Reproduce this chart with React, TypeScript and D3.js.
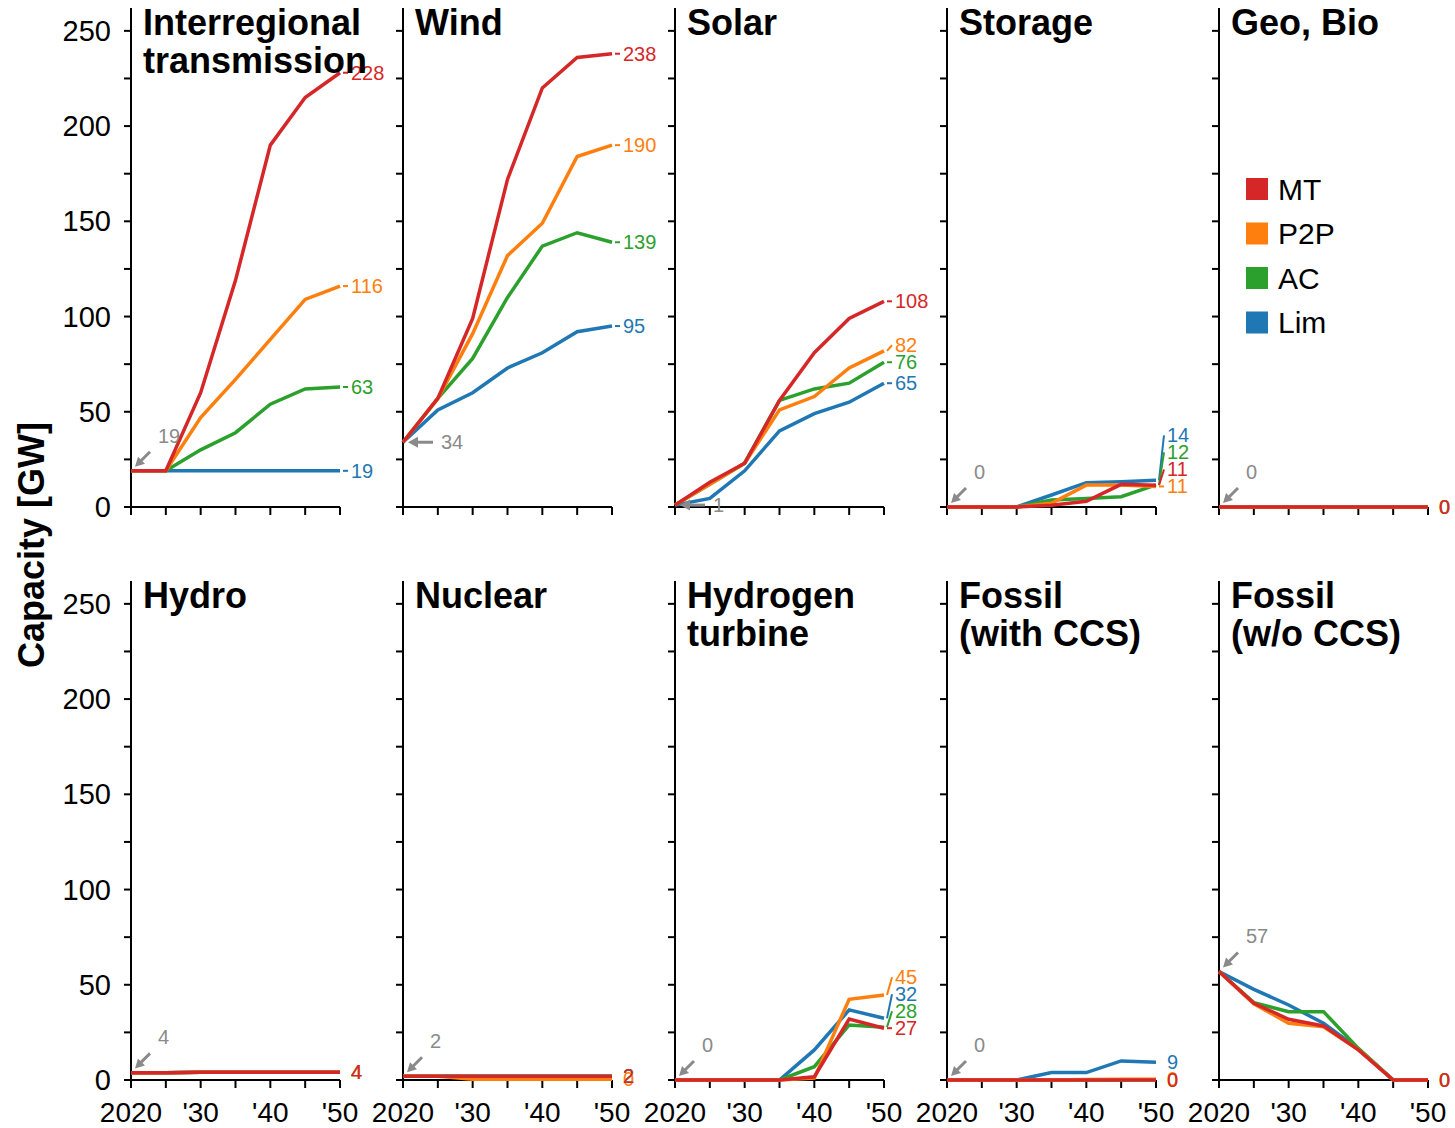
import React from 'react';
import * as d3 from 'd3';

// years on the x axis
const years = [2020, 2025, 2030, 2035, 2040, 2045, 2050];
const scenarios = ['MT', 'P2P', 'AC', 'Lim'];
const colors = ['#d62728', '#ff7f0e', '#2ca02c', '#1f77b4'];
const yTicks = [0, 25, 50, 75, 100, 125, 150, 175, 200, 225, 250];
const yTickLabels = [0, 50, 100, 150, 200, 250];
const xTickLabels = ['2020', "'30", "'40", "'50"];

// capacity [GW] per technology, per scenario
const transmission = {
  MT: [19, 19, 60, 119, 190, 215, 228],
  P2P: [19, 19, 47, 67, 88, 109, 116],
  AC: [19, 19, 30, 39, 54, 62, 63],
  Lim: [19, 19, 19, 19, 19, 19, 19],
};
const wind = {
  MT: [34, 57, 99, 172, 220, 236, 238],
  P2P: [34, 57, 91, 132, 149, 184, 190],
  AC: [34, 57, 78, 110, 137, 144, 139],
  Lim: [34, 51, 60, 73, 81, 92, 95],
};
const solar = {
  MT: [1, 13, 23, 56, 81, 99, 108],
  P2P: [1, 12, 23, 51, 58, 73, 82],
  AC: [1, 12, 23, 56, 62, 65, 76],
  Lim: [1, 4.5, 19, 40, 49, 55, 65],
};
const storage = {
  MT: [0, 0, 0, 0.9, 3, 11.9, 11.4],
  P2P: [0, 0, 0, 2, 11.5, 11.5, 10.8],
  AC: [0, 0, 0, 3.7, 4.5, 5.4, 11.6],
  Lim: [0, 0, 0, 6.3, 12.8, 13.3, 14],
};
const geoBio = {
  MT: [0, 0, 0, 0, 0, 0, 0],
  P2P: [0, 0, 0, 0, 0, 0, 0],
  AC: [0, 0, 0, 0, 0, 0, 0],
  Lim: [0, 0, 0, 0, 0, 0, 0],
};
const hydro = {
  MT: [3.8, 3.8, 4.1, 4.1, 4.1, 4.1, 4.1],
  P2P: [3.8, 3.8, 4.1, 4.1, 4.1, 4.1, 4.1],
  AC: [3.8, 3.8, 4.1, 4.1, 4.1, 4.1, 4.1],
  Lim: [3.8, 3.8, 4.1, 4.1, 4.1, 4.1, 4.1],
};
const nuclear = {
  MT: [2, 2, 2, 2, 2, 2, 2],
  P2P: [2, 2, 0.4, 0.4, 0.4, 0.4, 0.4],
  AC: [2, 2, 2, 2, 2, 2, 2],
  Lim: [2, 2, 2, 2, 2, 2, 2],
};
const hydrogen = {
  MT: [0, 0, 0, 0, 1.7, 32, 27.2],
  P2P: [0, 0, 0, 0, 1, 42.4, 44.6],
  AC: [0, 0, 0, 0, 7, 28.9, 27.7],
  Lim: [0, 0, 0, 0, 15.8, 36.8, 32.4],
};
const fossilCCS = {
  MT: [0, 0, 0, 0, 0, 0, 0],
  P2P: [0, 0, 0, 0, 0.3, 0.4, 0.4],
  AC: [0, 0, 0, 0, 0, 0, 0],
  Lim: [0, 0, 0, 3.9, 3.9, 10, 9.3],
};
const fossil = {
  MT: [57, 40.3, 31.9, 28.4, 15.8, 0, 0],
  P2P: [57, 40, 29.8, 28, 16, 0, 0],
  AC: [57, 40.6, 35.9, 35.9, 16.6, 0, 0],
  Lim: [57, 47.6, 39.4, 29.8, 16.3, 0, 0],
};

const panels = [
  { title: ['Interregional', 'transmission'], data: transmission, start: 19, arrow: 'diag', spread: true },
  { title: ['Wind'], data: wind, start: 34, arrow: 'horiz', spread: true },
  { title: ['Solar'], data: solar, start: 1, arrow: 'horiz', spread: true },
  { title: ['Storage'], data: storage, start: 0, arrow: 'diag', spread: true },
  { title: ['Geo, Bio'], data: geoBio, start: 0, arrow: 'diag', spread: false },
  { title: ['Hydro'], data: hydro, start: 4, arrow: 'diag', spread: false },
  { title: ['Nuclear'], data: nuclear, start: 2, arrow: 'diag', spread: false },
  { title: ['Hydrogen', 'turbine'], data: hydrogen, start: 0, arrow: 'diag', spread: true },
  { title: ['Fossil', '(with CCS)'], data: fossilCCS, start: 0, arrow: 'diag', spread: false },
  { title: ['Fossil', '(w/o CCS)'], data: fossil, start: 57, arrow: 'diag', spread: false },
];

const FONT = '"Liberation Sans", Arial, sans-serif';
const GREY = '#8a8a8a';
const left0 = 131, colStep = 272, panelW = 209;
const rowBase = [507, 1080], plotH = 499;
const yMax = 262;

const Panel = ({ p, i }) => {
  const col = i % 5, row = Math.floor(i / 5);
  const x0 = left0 + col * colStep;
  const yb = rowBase[row];
  const x = d3.scaleLinear().domain([2020, 2050]).range([x0, x0 + panelW]);
  const y = d3.scaleLinear().domain([0, yMax]).range([yb, yb - plotH]);
  const line = d3.line<number>().x((_, k) => x(years[k])).y(v => y(v));
  const xEnd = x(2050);

  // end labels, pushed apart from the bottom up when needed
  const labels = scenarios.map((s, k) => {
    const v = p.data[s][years.length - 1];
    return { k, v, y0: y(v), ly: y(v) };
  });
  if (p.spread) {
    const sorted = [...labels].sort((a, b) => a.v - b.v);
    for (let j = 1; j < sorted.length; j++) {
      sorted[j].ly = Math.min(sorted[j].y0, sorted[j - 1].ly - 17);
    }
  }

  const sx = x(2020), sy = y(p.start);
  let arrow;
  if (p.arrow === 'diag') {
    arrow = (
      <g>
        <line x1={sx + 19} y1={sy - 19} x2={sx + 9} y2={sy - 9} stroke={GREY} strokeWidth={3} />
        <polygon points={`${sx + 4},${sy - 4} ${sx + 14},${sy - 7} ${sx + 7},${sy - 14}`} fill={GREY} />
        <text x={sx + 27} y={sy - 35} fontSize={20} fill={GREY} dominantBaseline="central">{p.start}</text>
      </g>
    );
  } else {
    arrow = (
      <g>
        <line x1={sx + 30} y1={sy} x2={sx + 14} y2={sy} stroke={GREY} strokeWidth={3} />
        <polygon points={`${sx + 5},${sy} ${sx + 15},${sy - 5.5} ${sx + 15},${sy + 5.5}`} fill={GREY} />
        <text x={sx + 38} y={sy} fontSize={20} fill={GREY} dominantBaseline="central">{p.start}</text>
      </g>
    );
  }

  return (
    <g>
      {/* axes */}
      <line x1={x0} y1={yb - plotH} x2={x0} y2={yb} stroke="#000" strokeWidth={2} />
      <line x1={x0} y1={yb} x2={xEnd} y2={yb} stroke="#000" strokeWidth={2} />
      {yTicks.map(t => (
        <line key={t} x1={x0 - 7} x2={x0} y1={y(t)} y2={y(t)} stroke="#000" strokeWidth={2} />
      ))}
      {years.map(t => (
        <line key={t} x1={x(t)} x2={x(t)} y1={yb} y2={yb + 8} stroke="#000" strokeWidth={2} />
      ))}
      {col === 0 && yTickLabels.map(t => (
        <text key={t} x={x0 - 20} y={y(t)} fontSize={29} textAnchor="end" dominantBaseline="central">{t}</text>
      ))}
      {row === 1 && [2020, 2030, 2040, 2050].map((t, k) => (
        <text key={t} x={x(t)} y={yb + 42} fontSize={28} textAnchor="middle">{xTickLabels[k]}</text>
      ))}
      {/* lines, MT on top */}
      {[3, 2, 1, 0].map(k => (
        <path key={k} d={line(p.data[scenarios[k]]) || ''} fill="none" stroke={colors[k]} strokeWidth={3.5} />
      ))}
      {[3, 2, 1, 0].map(k => {
        const l = labels[k];
        return (
          <g key={k}>
            {p.spread && (
              <line x1={xEnd + 3} y1={l.y0} x2={xEnd + 8} y2={l.ly} stroke={colors[k]} strokeWidth={2} />
            )}
            <text x={xEnd + 11} y={l.ly} fontSize={20} fill={colors[k]} dominantBaseline="central">
              {Math.round(l.v)}
            </text>
          </g>
        );
      })}
      {arrow}
      {p.title.map((t, k) => (
        <text key={k} x={x0 + 12} y={yb - plotH + 27 + k * 38} fontSize={36} fontWeight="bold">{t}</text>
      ))}
    </g>
  );
};

export default function App() {
  return (
    <svg width={1455} height={1128} style={{ position: 'absolute', left: 0, top: 0 }} fontFamily={FONT}>
      <rect width={1455} height={1128} fill="#fff" />
      {panels.map((p, i) => <Panel key={i} p={p} i={i} />)}
      <text transform="translate(31,545) rotate(-90)" fontSize={36} fontWeight="bold" textAnchor="middle" dominantBaseline="central">
        Capacity [GW]
      </text>
      {scenarios.map((s, k) => (
        <g key={s}>
          <rect x={1246} y={178 + k * 44.5} width={22} height={22} fill={colors[k]} />
          <text x={1278} y={189 + k * 44.5} fontSize={30} dominantBaseline="central">{s}</text>
        </g>
      ))}
    </svg>
  );
}
